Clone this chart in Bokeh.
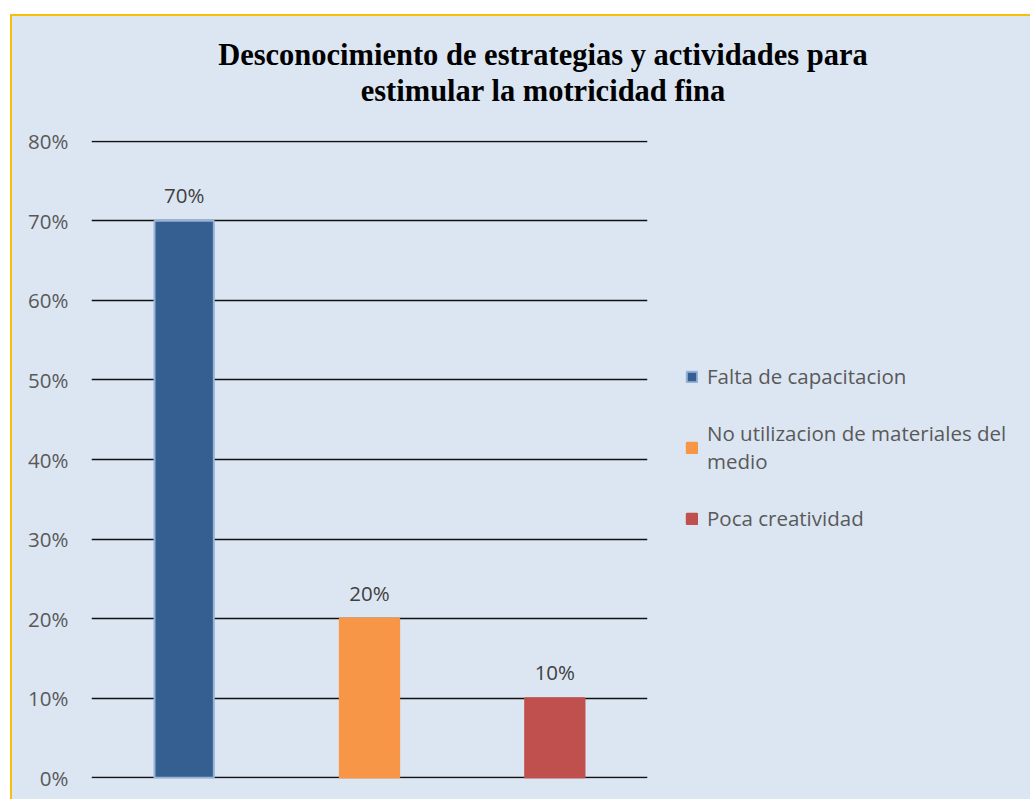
from bokeh.plotting import figure
from bokeh.layouts import column
from bokeh.models import (Range1d, FixedTicker, NumeralTickFormatter, Legend, LegendItem,
                          ColumnDataSource, LabelSet, Div)
from bokeh.core.properties import value
from bokeh.embed import file_html
from bokeh.resources import INLINE

# ---- data ----
categories = ["Falta de capacitacion", "No utilizacion de materiales del medio", "Poca creatividad"]
legend_labels = ["Falta de capacitacion", "No utilizacion de materiales del\nmedio", "Poca creatividad"]
values = [0.70, 0.20, 0.10]
value_labels = ["70%", "20%", "10%"]
bar_colors = ["#365F91", "#F79646", "#C0504D"]
bar_outlines = ["#95B3D7", "#F79646", "#C0504D"]
y_ticks = [0.0, 0.1, 0.2, 0.3, 0.4, 0.5, 0.6, 0.7, 0.8]
title_lines = ["Desconocimiento de estrategias y actividades para", "estimular la motricidad fina"]

BG = "#DCE6F2"
TXT = "#595959"
FONT = "Open Sans"
FS = "20.5px"
GOLD = "#F7BE0A"

title_html = (
    '<div style="width:1018px;height:110px;box-sizing:border-box;padding-top:21px;'
    'padding-left:44px;text-align:center;font-family:\'Liberation Serif\';font-weight:bold;'
    'font-size:30.5px;line-height:36px;color:#000000;">'
    + "<br>".join(title_lines) + "</div>"
)
div = Div(text=title_html, width=1018, height=110, margin=0)

p = figure(x_range=categories, y_range=Range1d(-0.001, 0.801),
           frame_width=556, frame_height=638,
           min_border_left=79, min_border_top=14, min_border_right=383, min_border_bottom=30,
           output_backend="svg", toolbar_location=None, margin=0)
p.background_fill_color = BG
p.border_fill_color = BG
p.outline_line_color = None

src = ColumnDataSource(dict(cat=categories, val=values, lab=value_labels,
                            fc=bar_colors, lc=bar_outlines))
r = p.vbar(x="cat", top="val", width=0.32, source=src, fill_color="fc",
           line_color="lc", line_width=2)

p.add_layout(LabelSet(x="cat", y="val", text="lab", source=src, y_offset=18,
                      text_align="center", text_baseline="alphabetic",
                      text_font=value(FONT), text_font_size=FS, text_color="#404040"))

# axes
p.xaxis.visible = False
p.xgrid.visible = False
yax = p.yaxis[0]
yax.ticker = FixedTicker(ticks=y_ticks)
yax.formatter = NumeralTickFormatter(format="0%")
yax.axis_line_color = None
yax.major_tick_line_color = None
yax.minor_tick_line_color = None
yax.major_tick_out = 0
yax.major_label_standoff = 23
yax.major_label_text_font = FONT
yax.major_label_text_font_size = FS
yax.major_label_text_color = TXT
p.ygrid.ticker = FixedTicker(ticks=y_ticks)
p.ygrid.grid_line_color = "#111111"
p.ygrid.grid_line_width = 1.5

# legend
items = [LegendItem(label=legend_labels[i], renderers=[r], index=i) for i in range(3)]
leg = Legend(items=items, location=(38, 246), orientation="vertical",
             label_text_font=FONT, label_text_font_size=FS, label_text_color=TXT,
             glyph_width=13, glyph_height=13, label_standoff=9, spacing=29,
             padding=0, margin=0, border_line_color=None, background_fill_alpha=0)
p.add_layout(leg, "right")

layout = column(div, p, spacing=0)
layout.styles = {"position": "absolute", "left": "10px", "top": "14px",
                 "border-top": "2px solid " + GOLD, "border-left": "2px solid " + GOLD,
                 "background-color": BG}

html = file_html(layout, INLINE)
html = html.replace("<head>", "<head><style>html,body{overflow:hidden}</style>", 1)
open("out.html", "w").write(html)
